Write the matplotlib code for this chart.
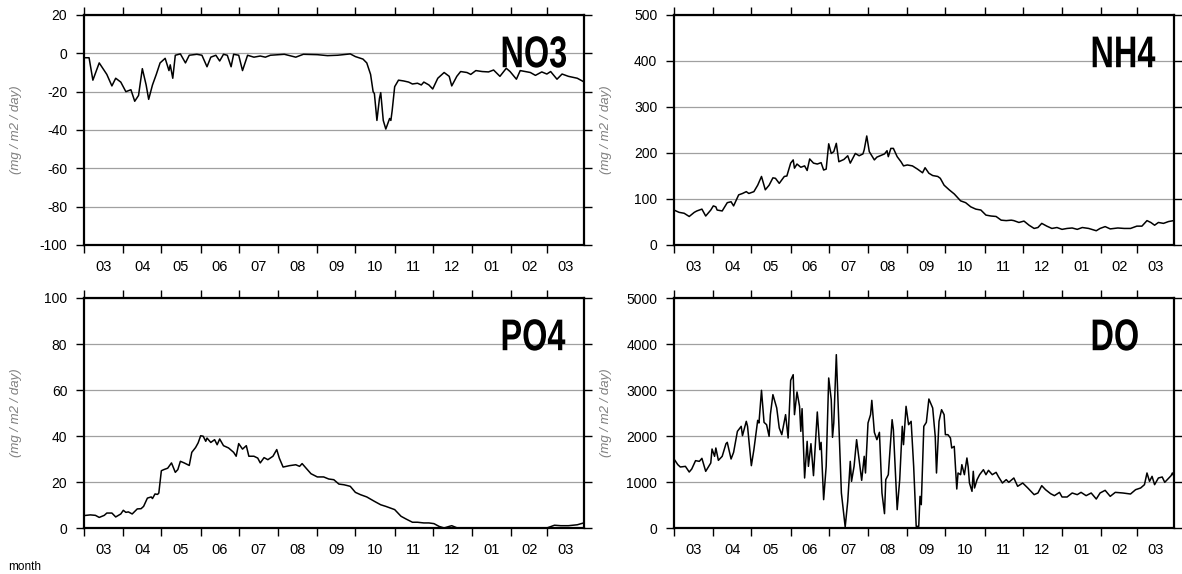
import numpy as np
import pandas as pd
import matplotlib
matplotlib.use("Agg")
import matplotlib.pyplot as plt
import matplotlib.patheffects as pe
from matplotlib.transforms import Affine2D
from matplotlib.ticker import FixedLocator, FixedFormatter, NullFormatter

plt.rcParams['font.family'] = ['Liberation Sans', 'DejaVu Sans']
plt.rcParams['axes.unicode_minus'] = False

# x = days since 1 March, y = flux (mg/m2/day)
no3_days = [0, 4, 7, 12, 16, 18, 22, 25, 29, 33, 37, 40, 43, 46, 49, 51, 54, 57, 60, 64,
            67, 68, 70, 72, 76, 80, 83, 89, 93, 97, 100, 104, 107, 110, 113, 116, 118, 122, 125, 129,
            134, 139, 143, 147, 158, 167, 173, 184, 192, 200, 210, 214, 220, 223, 226, 228, 229, 231, 233, 234,
            236, 238, 241, 242, 243, 245, 248, 252, 256, 259, 263, 266, 268, 272, 275, 279, 284, 288, 290, 294,
            297, 302, 305, 309, 314, 319, 323, 328, 333, 336, 341, 344, 352, 356, 361, 365, 368, 373, 377, 382,
            389, 394]
no3 = [-2.3, -2.3, -14, -5, -9, -11, -17, -13, -15, -20, -19, -25, -22, -8, -16.5, -24, -16.5, -11, -5, -2.6,
       -9, -6, -13, -1, -0.3, -5, -1, -0.5, -1, -7, -2, -1, -4, -0.5, -1, -7, -0.5, -1, -9, -1,
       -2, -1.4, -2, -1, -0.5, -2, -0.5, -0.7, -1.2, -1, -0.3, -1.7, -3, -5, -11, -20, -21, -35, -23.5, -20.5,
       -35, -39.5, -34, -35, -30, -17.4, -14, -14.4, -15, -16, -15.6, -16.5, -15, -16.5, -18.6, -13, -10, -12, -17, -12,
       -9.5, -10, -11, -9, -9.5, -9.7, -8.7, -12, -7.8, -9.5, -13.5, -9, -10, -11.5, -9.7, -10.8, -9.5, -13.5, -10.8, -12,
       -13, -14.8]

nh4_days = [0, 4, 8, 12, 16, 18, 22, 25, 29, 31, 33, 34, 38, 42, 45, 47, 51, 54, 57, 59,
            63, 66, 69, 72, 75, 78, 80, 83, 87, 89, 92, 94, 95, 97, 100, 103, 105, 107, 110, 113,
            116, 118, 120, 122, 124, 126, 128, 130, 134, 137, 139, 143, 146, 149, 150, 152, 154, 158, 160, 166,
            168, 169, 171, 173, 176, 179, 181, 184, 188, 192, 196, 198, 201, 204, 208, 210, 213, 217, 221, 226,
            230, 234, 238, 242, 246, 250, 254, 258, 262, 266, 268, 272, 276, 280, 284, 287, 290, 294, 298, 302,
            306, 310, 314, 318, 322, 327, 333, 336, 340, 344, 350, 355, 360, 365, 369, 373, 376, 379, 382, 386,
            390, 394]
nh4 = [76, 71, 69, 62, 71, 74, 78, 63, 76, 85, 83, 76, 74, 92, 94, 85, 109, 112, 116, 112,
       116, 130, 149, 120, 130, 146, 145, 134, 149, 150, 178, 185, 167, 176, 169, 172, 162, 187, 178, 176,
       179, 163, 165, 220, 199, 203, 221, 181, 186, 194, 178, 199, 194, 198, 207, 237, 203, 185, 191, 198,
       205, 192, 210, 210, 192, 181, 172, 174, 172, 165, 157, 168, 156, 151, 149, 145, 130, 120, 111, 96,
       92, 83, 78, 76, 65, 63, 62, 54, 53, 54, 53, 49, 52, 43, 36, 38, 47, 41, 36, 38,
       34, 36, 37, 34, 38, 36, 31, 36, 40, 35, 37, 36, 36, 41, 41, 53, 49, 43, 49, 47,
       51, 53]

po4_days = [0, 5, 9, 12, 16, 18, 22, 25, 29, 31, 33, 35, 38, 42, 45, 47, 50, 53, 54, 56,
            58, 59, 61, 63, 66, 69, 72, 74, 76, 79, 83, 85, 88, 90, 92, 94, 96, 97, 100, 103,
            105, 107, 110, 114, 118, 120, 122, 125, 128, 130, 134, 137, 139, 142, 145, 149, 152, 154, 157, 162,
            167, 170, 172, 175, 179, 184, 189, 193, 197, 201, 205, 208, 210, 214, 218, 223, 229, 234, 238, 245,
            250, 254, 259, 263, 268, 272, 276, 280, 284, 288, 290, 294, 300, 365, 371, 376, 382, 389, 394]
po4 = [5.4, 5.7, 5.5, 4.6, 5.5, 6.5, 6.5, 4.8, 6.1, 7.7, 6.8, 7.0, 6.1, 8.3, 8.4, 9.4, 13, 13.5, 12.8, 14.8,
       14.6, 15.2, 24.9, 25.4, 26, 28.3, 24.2, 25.4, 29, 28.3, 27.2, 32.9, 35, 37, 40.1, 39.9, 37.7, 39.1, 37.2, 38.4,
       36.2, 38.7, 35.8, 34.8, 32.9, 31.2, 36.7, 34.3, 35.8, 31.2, 31.2, 30.4, 28.3, 30.6, 29.7, 31.2, 34.1, 30.4, 26.5, 27.1,
       27.5, 26.8, 28, 26.1, 23.6, 22.2, 22.2, 21.3, 21, 19.1, 18.8, 18.4, 18.1, 15.5, 14.5, 13.5, 11.6, 10.1, 9.4, 8,
       5.1, 3.9, 2.5, 2.5, 2.2, 2.2, 1.9, 0.7, 0, 0.7, 1, 0.1, 0, 0, 1.2, 1, 1, 1.4, 2.2]

do_days = [0, 3, 5, 9, 12, 14, 17, 20, 22, 25, 29, 30, 32, 33, 35, 38, 41, 42, 45, 47,
           50, 53, 54, 57, 58, 61, 63, 64, 66, 67, 69, 71, 73, 75, 76, 78, 81, 83, 85, 88,
           90, 92, 94, 95, 97, 99, 100, 101, 103, 105, 106, 108, 110, 112, 113, 115, 116, 118, 120, 122,
           124, 125, 126, 128, 130, 132, 135, 137, 139, 140, 142, 144, 146, 148, 150, 151, 153, 155, 156, 158,
           160, 162, 164, 166, 167, 169, 172, 173, 176, 178, 180, 181, 183, 185, 187, 189, 191, 193, 194, 195,
           197, 199, 201, 204, 206, 207, 209, 211, 213, 214, 216, 218, 219, 221, 223, 224, 226, 227, 229, 231,
           232, 233, 235, 236, 237, 239, 241, 244, 246, 248, 251, 254, 256, 259, 262, 264, 268, 271, 275, 279,
           284, 287, 290, 293, 297, 300, 304, 306, 310, 314, 318, 321, 325, 329, 333, 336, 340, 344, 348, 354,
           360, 364, 368, 371, 373, 375, 377, 379, 382, 385, 387, 389, 392, 393, 394]
do = [1500, 1377, 1326, 1340, 1217, 1283, 1464, 1449, 1514, 1232, 1413, 1717, 1558, 1739, 1471, 1558, 1833, 1862, 1500, 1645,
      2101, 2210, 2007, 2319, 2210, 1355, 1703, 1920, 2340, 2283, 2993, 2297, 2246, 1993, 2464, 2899, 2609, 2174, 2029, 2464,
      1957, 3210, 3333, 2464, 2957, 2645, 2101, 2594, 1087, 1884, 1340, 1833, 1138, 2080, 2522, 1703, 1862, 616, 1340, 3261,
      2790, 1971, 2283, 3768, 2283, 761, 22, 580, 1449, 1014, 1340, 1920, 1485, 1036, 1558, 1196, 2283, 2464, 2775, 2080,
      1920, 2080, 761, 312, 1051, 1159, 2355, 2138, 399, 1051, 2210, 1812, 2645, 2246, 2319, 1340, 36, 36, 688, 507,
      2210, 2297, 2804, 2609, 1993, 1196, 2319, 2572, 2464, 2029, 2029, 1957, 1739, 1775, 848, 1196, 1159, 1377, 1159, 1522,
      1326, 978, 797, 1232, 870, 1051, 1159, 1268, 1159, 1254, 1159, 1210, 1109, 978, 1051, 993, 1087, 906, 978, 870,
      725, 761, 920, 833, 746, 703, 775, 674, 674, 761, 725, 775, 703, 761, 630, 761, 819, 688, 775, 761,
      739, 833, 870, 942, 1196, 1014, 1123, 942, 1087, 1109, 993, 1051, 1138, 1196, 1138]

month_labels = ["03", "04", "05", "06", "07", "08", "09", "10", "11", "12", "01", "02", "03"]
x_end = 394.3

month_starts = pd.date_range("2010-03-01", "2011-03-01", freq="MS")
tick_days = np.array((month_starts - month_starts[0]).days, dtype=float)
edges = np.append(tick_days, x_end)
label_days = (edges[:-1] + edges[1:]) / 2


class Narrow(pe.AbstractPathEffect):
    # squeeze glyphs horizontally to get a condensed bold look
    def __init__(self, sx=0.73):
        super().__init__()
        self.sx = sx

    def draw_path(self, renderer, gc, tpath, affine, rgbFace=None):
        renderer.draw_path(gc, tpath, Affine2D().scale(self.sx, 1) + affine, rgbFace)


fig = plt.figure(figsize=(11.82, 5.74), dpi=100)

W, H = 1182, 574
rects = [(84, 15), (674, 15), (84, 298), (674, 298)]
panels = [
    ("NO3", no3_days, no3, (-100, 20), np.arange(-100, 21, 20)),
    ("NH4", nh4_days, nh4, (0, 500), np.arange(0, 501, 100)),
    ("PO4", po4_days, po4, (0, 100), np.arange(0, 101, 20)),
    ("DO", do_days, do, (0, 5000), np.arange(0, 5001, 1000)),
]

for (px, py), (name, xd, yd, ylim, yticks) in zip(rects, panels):
    ax = fig.add_axes([px / W, 1 - (py + 230) / H, 500 / W, 230 / H])
    ax.plot(xd, yd, color="black", lw=1.1, zorder=3)
    ax.set_xlim(0, x_end)
    ax.set_ylim(*ylim)
    ax.set_yticks(yticks)
    ax.yaxis.grid(True, color="#a0a0a0", lw=0.9)
    ax.set_axisbelow(True)

    ax.xaxis.set_major_locator(FixedLocator(tick_days))
    ax.xaxis.set_major_formatter(NullFormatter())
    ax.xaxis.set_minor_locator(FixedLocator(label_days))
    ax.xaxis.set_minor_formatter(FixedFormatter(month_labels))
    ax.tick_params(axis="x", which="major", direction="out", length=6, width=1,
                   top=True, bottom=True)
    ax.tick_params(axis="x", which="minor", length=0, pad=11, labelsize=10.5)
    ax.tick_params(axis="y", direction="out", length=6, width=1, left=True, right=True,
                   labelsize=10, pad=6)
    for sp in ax.spines.values():
        sp.set_linewidth(1.6)

    ax.set_ylabel("(mg / m2 / day)", fontsize=9.5, style="italic", color="#808080")
    ax.yaxis.set_label_coords(-0.124, 0.5)

    ax.text(0.833, 0.773, name, transform=ax.transAxes, ha="left", va="baseline",
            fontsize=32, fontweight="bold", path_effects=[Narrow(0.73)])

fig.text(8 / W, 1 - 567 / H, "month", fontsize=8.5, va="center", ha="left")

plt.savefig("out.png", dpi=100)
